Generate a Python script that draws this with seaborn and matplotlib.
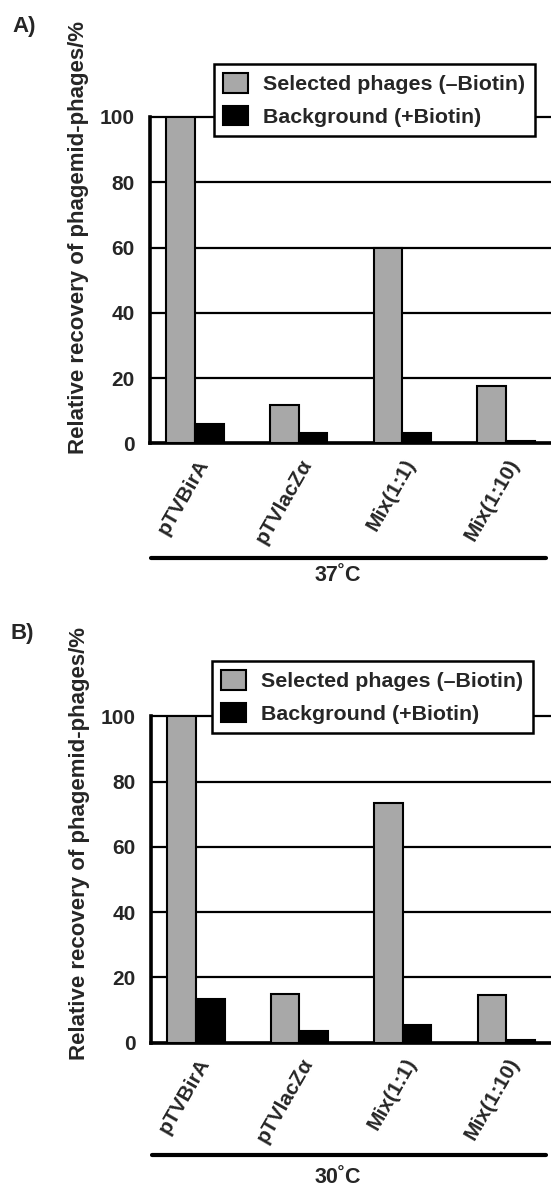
import pandas as pd
import matplotlib.pyplot as plt
import matplotlib.transforms as mtransforms
import seaborn as sns

samples = ['pTVBirA', 'pTVlacZα', 'Mix(1:1)', 'Mix(1:10)']
conditions = ['Selected phages (–Biotin)', 'Background (+Biotin)']

# panel A, 37 C
sel_37 = [100, 11.8, 60, 17.7]
bg_37 = [6, 3.3, 3.3, 0.8]
# panel B, 30 C
sel_30 = [100, 14.8, 73.5, 14.5]
bg_30 = [13.2, 3.6, 5.4, 0.8]

sns.set_style('white')
plt.rcParams['font.family'] = ['Liberation Sans', 'DejaVu Sans']
plt.rcParams['font.weight'] = 'bold'

fig = plt.figure(figsize=(5.51, 11.89), dpi=100)


def make_df(sel, bg):
    return pd.DataFrame({
        'sample': samples * 2,
        'cond': [conditions[0]] * 4 + [conditions[1]] * 4,
        'value': sel + bg,
    })


def panel(rect, sel, bg, temp, leg_box, lab_x, lab_y, line_y, temp_xy):
    ax = fig.add_axes(rect)
    df = make_df(sel, bg)
    sns.barplot(data=df, x='sample', y='value', hue='cond', hue_order=conditions,
                palette=['#a8a8a8', 'black'], edgecolor='black', linewidth=1.5,
                width=0.555, gap=0, ax=ax, zorder=3)
    ax.set_ylim(0, 100)
    ax.set_xlim(-0.434, 3.433)
    ax.set_yticks([0, 20, 40, 60, 80, 100])
    ax.yaxis.grid(True, color='black', lw=1.6)
    for gl in ax.get_ygridlines():
        gl.set_clip_on(False)
    ax.set_axisbelow(True)
    for s in ['top', 'right']:
        ax.spines[s].set_visible(False)
    ax.spines['left'].set_linewidth(2.6)
    ax.spines['bottom'].set_linewidth(2.6)
    ax.spines['left'].set_color('black')
    ax.spines['bottom'].set_color('black')
    ax.tick_params(axis='y', length=0, pad=11, labelsize=15)
    ax.tick_params(axis='x', length=0, pad=12.5, labelsize=15)
    shift = mtransforms.ScaledTranslation(0.09, 0, fig.dpi_scale_trans)
    for lab in ax.get_xticklabels():
        lab.set_rotation(60)
        lab.set_ha('right')
        lab.set_va('center')
        lab.set_rotation_mode('anchor')
        lab.set_fontweight('bold')
        lab.set_transform(lab.get_transform() + shift)
    plt.setp(ax.get_yticklabels(), fontweight='bold')
    ax.set_xlabel('')
    ax.set_ylabel('Relative recovery of phagemid-phages/%', fontsize=16,
                  fontweight='bold')
    ax.yaxis.set_label_coords(lab_x, lab_y)
    handles, labels = ax.get_legend_handles_labels()
    ax.legend(handles, labels, loc='upper left', bbox_to_anchor=leg_box,
              bbox_transform=fig.transFigure, frameon=True, fancybox=False,
              edgecolor='black', framealpha=1, borderaxespad=0,
              handlelength=1.17, handleheight=1.03, borderpad=0.43,
              labelspacing=0.53, handletextpad=0.7,
              prop={'weight': 'bold', 'size': 15.4})
    ax.get_legend().get_frame().set_linewidth(1.8)
    ax.get_legend().set_zorder(5)
    ax.plot([0.0025, 0.9875], [line_y, line_y], transform=ax.transAxes,
            color='black', lw=3, clip_on=False)
    ax.text(temp_xy[0], temp_xy[1], temp, transform=ax.transAxes,
            ha='center', va='center', fontsize=15.5, fontweight='bold')
    return ax


panel([0.2722, 0.627, 0.7278, 0.2746], sel_37, bg_37, '37˚C',
      (0.3884, 0.9462), -0.152, 0.632, -0.351, (0.469, -0.403))
panel([0.2740, 0.1232, 0.7260, 0.2742], sel_30, bg_30, '30˚C',
      (0.3848, 0.4441), -0.152, 0.609, -0.345, (0.4675, -0.413))

fig.text(0.0436, 0.9777, 'A)', fontsize=16, fontweight='bold', va='center', ha='center')
fig.text(0.040, 0.4672, 'B)', fontsize=16, fontweight='bold', va='center', ha='center')

fig.savefig('out.png', dpi=100, facecolor='white')
